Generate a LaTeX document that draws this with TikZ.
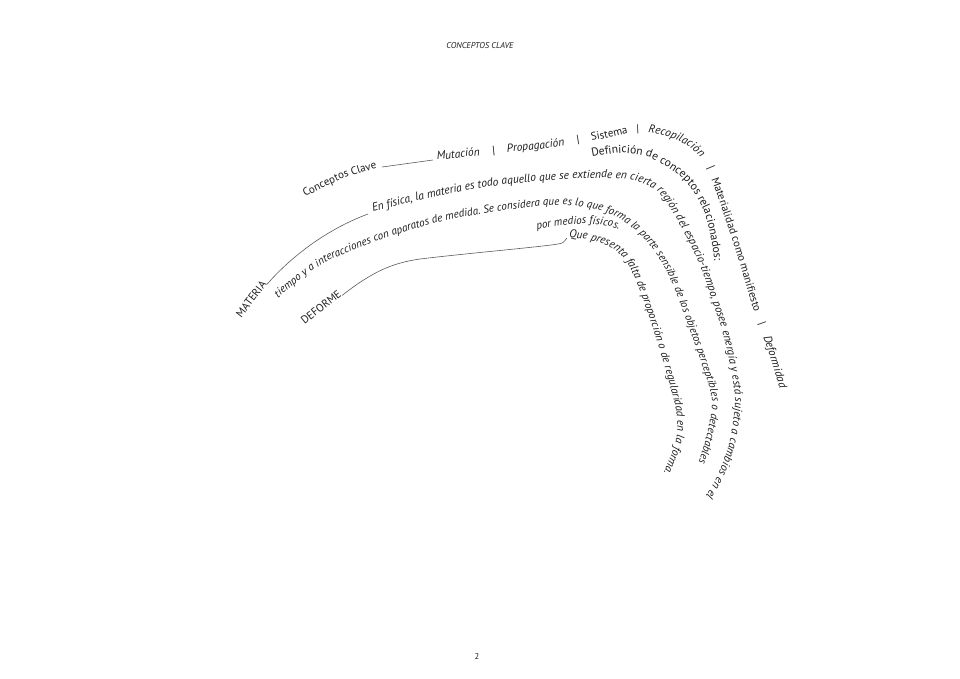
\documentclass[tikz,border=0pt]{standalone}
\usepackage{fontspec}
\setmainfont{PT Sans}
\usetikzlibrary{decorations.text}

\definecolor{inkgray}{HTML}{1E1E1E}
\definecolor{linegray}{HTML}{5A5A5A}

% fuentes de los textos curvos
\newcommand{\upwords}{\fontsize{11}{13}\selectfont\upshape}
\newcommand{\itwords}{\fontsize{11.5}{13}\selectfont\itshape}
\newcommand{\defwords}{\fontsize{11.6}{13}\selectfont\upshape}
\newcommand{\bodyfont}{\fontsize{11.5}{13}\selectfont\itshape}
\newcommand{\innerfont}{\fontsize{11.1}{13}\selectfont\itshape}
\newcommand{\formfont}{\fontsize{11.3}{13}\selectfont\itshape}

\begin{document}
\begin{tikzpicture}[x=1pt, y=-1pt,
    curvetext/.style={decorate, decoration={text along path, text color=inkgray, #1}},
    thinline/.style={draw=linegray, line width=0.6pt},
    wordlabel/.style={inner sep=0pt, text=inkgray, font=\fontsize{11}{13}\selectfont}
]
\useasboundingbox (0,0) rectangle (960,679);

% cabecera y pie
\node[font=\fontsize{8.5}{10}\selectfont\itshape, text=inkgray] (title) at (480,46) {CONCEPTOS CLAVE};
\node[font=\fontsize{8.5}{10}\selectfont, text=inkgray] (pagenum) at (477,656) {2};

% palabras sueltas
\node[wordlabel, rotate=53] (materia) at (251,299) {MATERIA};
\node[wordlabel, rotate=38] (deforme) at (321,307) {DEFORME};

% Conceptos Clave
\path[curvetext={text={|\upwords|Conceptos Clave}}]
  plot[smooth] coordinates {(305,197) (342,179) (382,167) (400,165)};
\coordinate (clave) at (382,167);
\coordinate (mutacion) at (433,160);
\draw[thinline] (clave) -- (mutacion);

% arco exterior
\path[curvetext={text format delimiters={[}{]}, text={[\itwords]Mutación~~~~|~~~~Propagación~~~~|~~~~[\upwords]Sistema~~~|~~~[\itwords]Recopilación~~~~|~~~[\upwords]Materialidad como manifiesto~~~~|~~~~[\itwords]Deformidad}}]
  plot[smooth] coordinates {(437,160) (484,155) (540,149) (580,143) (612,137) (638,132) (662,135) (686,145) (702,159) (711,178) (723,212) (738,258) (752,305) (766,345) (780,390) (792,440) (800,480) (806,520)};

% definicion
\path[curvetext={text={|\defwords|Definición de conceptos relacionados:}}]
  plot[smooth] coordinates {(592,157) (620,153) (645,156) (664,165) (682,178) (695,194) (706,217) (713,250) (716,280) (718,310)};

% materia
\coordinate (enfisica) at (368,214);
\draw[thinline] (materia.base east) .. controls (290,258) and (325,230) .. (enfisica);
\path[curvetext={text={|\bodyfont|En física, la materia es todo aquello que se extiende en cierta región del espacio-tiempo, posee energía y está sujeto a cambios en el}}]
  plot[smooth] coordinates {(373,212) (420,200) (480,188) (540,181) (600,178) (635,181) (657,191) (672,211) (688,240) (701,268) (712,300) (722,330) (730,365) (735,400) (730,440) (718,475) (700,505) (688,525) (676,545) (664,565)};
\path[curvetext={text={|\innerfont|tiempo y a interacciones con aparatos de medida. Se considera que es lo que forma la parte sensible de los objetos perceptibles o detectables}}]
  plot[smooth] coordinates {(278,298) (305,276) (330,260) (380,240) (440,222) (500,211) (557,205) (590,208) (615,216) (635,230) (652,248) (665,268) (677,295) (690,330) (703,368) (712,400) (708,430) (699,462) (690,485) (681,505) (672,525) (663,545)};
\path[curvetext={text={|\innerfont|por medios físicos.}}]
  plot[smooth] coordinates {(537,230) (565,225) (592,224) (612,227) (625,233) (635,243) (643,255)};

% deforme
\coordinate (quepresenta) at (567,238);
\draw[thinline] (deforme.base east) .. controls (372,272) and (392,263) .. (420,259)
  .. controls (470,253) and (540,247) .. (558,244) .. controls (563,243) .. (quepresenta);
\path[curvetext={text={|\formfont|Que presenta falta de proporción o de regularidad en la forma.}}]
  plot[smooth] coordinates {(569,238) (590,240) (612,248) (625,260) (635,278) (645,305) (655,335) (667,375) (676,410) (677,435) (670,458) (660,480) (648,498) (636,515) (624,532)};
\end{tikzpicture}
\end{document}
